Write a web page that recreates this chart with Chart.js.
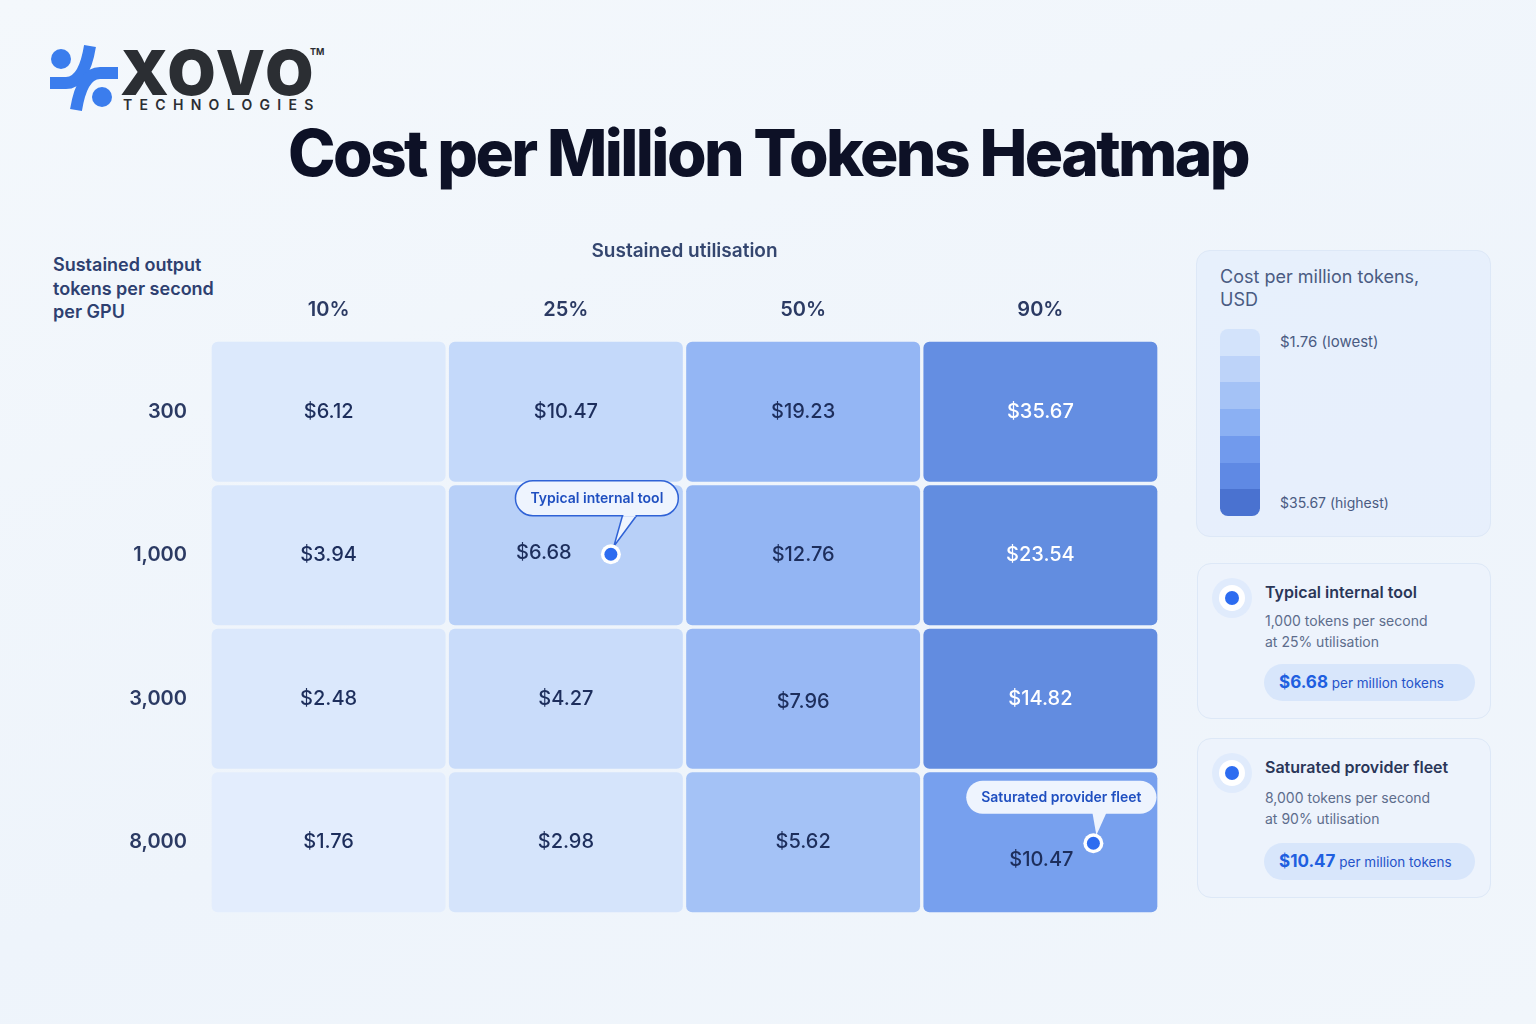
<!DOCTYPE html>
<html>
<head>
<meta charset="utf-8">
<script src="https://cdn.jsdelivr.net/npm/chart.js@4.4.1/dist/chart.umd.min.js"></script>
<style>
  html, body { margin: 0; padding: 0; }
  body {
    width: 1536px; height: 1024px; overflow: hidden; position: relative;
    background: linear-gradient(160deg, #f4f8fc 0%, #eef4fb 60%, #f1f6fb 100%);
    font-family: Inter, "Noto Sans", sans-serif; color: #2b3a63;
  }
  .abs { position: absolute; }
  #title {
    left: 0; top: 121px; width: 1536px; text-align: center;
    font-size: 64px; font-weight: 800; letter-spacing: -2.6px; line-height: 1;
    color: #0d1126;
  }
  #ytitle {
    left: 53px; top: 253px; font-size: 18px; font-weight: 600; line-height: 23.5px;
    color: #2e4070;
  }
  .card {
    position: absolute; box-sizing: border-box; border-radius: 14px;
    background: rgba(228, 238, 252, 0.75); border: 1px solid #dde8f7;
  }
  .legend-title { position: absolute; left: 23px; top: 14px; font-size: 18px; line-height: 23px; color: #4a5b82; }
  .ramp { position: absolute; left: 23px; top: 78px; width: 40px; height: 187px; border-radius: 8px; overflow: hidden; display: flex; flex-direction: column; }
  .ramp div { flex: 1; }
  .rlab { position: absolute; left: 83px; font-size: 15px; color: #4a5b82; }
  .dot { position: absolute; left: 14px; width: 40px; height: 40px; border-radius: 50%; background: #e0ebfc; }
  .dot::before { content: ""; position: absolute; left: 7px; top: 7px; width: 26px; height: 26px; border-radius: 50%; background: #fff; }
  .dot::after { content: ""; position: absolute; left: 13px; top: 13px; width: 14px; height: 14px; border-radius: 50%; background: #2d6cf0; }
  .ctitle { position: absolute; left: 67px; font-size: 16px; font-weight: 600; color: #2a3658; }
  .csub { position: absolute; left: 67px; font-size: 14px; line-height: 21px; color: #5d6d8c; }
  .pill { position: absolute; left: 66px; width: 211px; box-sizing: border-box; height: 37px; border-radius: 19px; background: #d8e6fb; padding: 0 15px; line-height: 37px; color: #2553c9; font-size: 13.5px; white-space: nowrap; }
  .pill b { font-size: 17px; font-weight: 700; color: #1f5fe0; }
</style>
</head>
<body>

<!-- logo -->
<svg class="abs" style="left:44px;top:40px" width="80" height="76" viewBox="44 40 80 76">
  <circle cx="61" cy="59" r="10" fill="#3b7ded"/>
  <circle cx="102" cy="97" r="10" fill="#3b7ded"/>
  <path d="M50 83 L66 83 Q84 83 90 46" stroke="#3b7ded" stroke-width="12" fill="none"/>
  <path d="M118 73 L100 73 Q82 73 76 110" stroke="#3b7ded" stroke-width="12" fill="none"/>
</svg>
<div class="abs" style="left:120px;top:42px;font-size:62px;font-weight:900;letter-spacing:3px;line-height:1;color:#2b2e33">XOVO</div>
<div class="abs" style="left:310px;top:46px;font-size:9px;font-weight:700;color:#2b2e33">TM</div>
<div class="abs" style="left:123px;top:96px;font-size:14px;font-weight:600;letter-spacing:7.3px;color:#2b2e33">TECHNOLOGIES</div>

<div id="title" class="abs">Cost per Million Tokens Heatmap</div>
<div id="ytitle" class="abs">Sustained output<br>tokens per second<br>per GPU</div>

<div class="abs" style="left:0;top:220px">
  <canvas id="heat" width="1180" height="729"></canvas>
</div>

<!-- colour key -->
<div class="card" style="left:1196px;top:250px;width:295px;height:287px">
  <div class="legend-title">Cost per million tokens,<br>USD</div>
  <div class="ramp" id="ramp"></div>
  <div class="rlab" id="lowLab" style="top:81px"></div>
  <div class="rlab" id="highLab" style="top:243px;font-size:14px"></div>
</div>

<div class="card" style="left:1197px;top:563px;width:294px;height:156px;background:rgba(236,243,253,0.8)">
  <div class="dot" style="top:14px"></div>
  <div class="ctitle" style="top:18px">Typical internal tool</div>
  <div class="csub" style="top:46px">1,000 tokens per second<br>at 25% utilisation</div>
  <div class="pill" style="top:100px"><b>$6.68</b> per million tokens</div>
</div>

<div class="card" style="left:1197px;top:738px;width:294px;height:160px;background:rgba(236,243,253,0.8)">
  <div class="dot" style="top:14px"></div>
  <div class="ctitle" style="top:18px">Saturated provider fleet</div>
  <div class="csub" style="top:48px">8,000 tokens per second<br>at 90% utilisation</div>
  <div class="pill" style="top:104px"><b>$10.47</b> per million tokens</div>
</div>

<script>
const utilisation = ['10%', '25%', '50%', '90%'];
const tokenRates = ['300', '1,000', '3,000', '8,000'];

// cost per million tokens, rows = tokenRates, columns = utilisation
const cost300 = [6.12, 10.47, 19.23, 35.67];
const cost1000 = [3.94, 6.68, 12.76, 23.54];
const cost3000 = [2.48, 4.27, 7.96, 14.82];
const cost8000 = [1.76, 2.98, 5.62, 10.47];
const costs = [cost300, cost1000, cost3000, cost8000];

// shade used for each cell in the picture
const cellShades = [
  ['#dce9fc', '#c4d9fa', '#94b6f4', '#648ee2'],
  ['#d9e7fc', '#b8d0f8', '#93b5f3', '#628de0'],
  ['#dbe8fc', '#c9dcfa', '#98b8f4', '#628ce0'],
  ['#e3edfd', '#d5e4fb', '#a4c2f6', '#77a0ee']
];
const rampShades = ['#d3e3fb', '#bdd3f9', '#a4c2f6', '#8bb0f3', '#719aed', '#5f89e4', '#4a72d0'];

const callouts = [
  { row: 1, col: 1, text: 'Typical internal tool', outlined: true },
  { row: 3, col: 3, text: 'Saturated provider fleet', outlined: false }
];

// legend ramp
const ramp = document.getElementById('ramp');
rampShades.forEach(c => {
  const d = document.createElement('div');
  d.style.background = c;
  ramp.appendChild(d);
});
const allCosts = costs.flat();
document.getElementById('lowLab').textContent = '$' + Math.min(...allCosts).toFixed(2) + ' (lowest)';
document.getElementById('highLab').textContent = '$' + Math.max(...allCosts).toFixed(2) + ' (highest)';

function isDark(hex) {
  const r = parseInt(hex.substr(1, 2), 16), g = parseInt(hex.substr(3, 2), 16), b = parseInt(hex.substr(5, 2), 16);
  return 0.299 * r + 0.587 * g + 0.114 * b < 148;
}

// small tweaks for the two annotated cells (label + marker placement)
const labelShift = { '1-1': [-22, -2], '3-3': [1, 18], '2-2': [0, 3] };
const markerShift = { '1-1': [45, -1], '3-3': [53, 1] };
const bubbleShift = { '1-1': [31, -57], '3-3': [21, -45] };

const cellText = {
  id: 'cellText',
  afterDatasetsDraw(chart) {
    const ctx = chart.ctx;
    ctx.save();
    ctx.font = '500 20px Inter';
    ctx.textAlign = 'center';
    ctx.textBaseline = 'middle';
    chart.data.datasets.forEach((ds, c) => {
      chart.getDatasetMeta(c).data.forEach((el, r) => {
        const p = el.getCenterPoint();
        const s = labelShift[r + '-' + c] || [0, 0];
        ctx.fillStyle = isDark(cellShades[r][c]) ? '#ffffff' : '#1d2e5c';
        ctx.fillText('$' + costs[r][c].toFixed(2), p.x + s[0], p.y + s[1]);
      });
    });

    callouts.forEach(co => {
      const el = chart.getDatasetMeta(co.col).data[co.row];
      const p = el.getCenterPoint();
      const key = co.row + '-' + co.col;
      const mx = p.x + markerShift[key][0], my = p.y + markerShift[key][1];
      const bx = p.x + bubbleShift[key][0], by = p.y + bubbleShift[key][1];
      ctx.font = '600 14px Inter';
      const w = ctx.measureText(co.text).width + 30, h = co.outlined ? 35 : 33;
      const left = bx - w / 2, top = by - h / 2;
      // tail
      const tx = bx + w * 0.2;
      ctx.beginPath();
      ctx.moveTo(tx - 7, top + h - 1);
      ctx.lineTo(mx + 3, my - 8);
      ctx.lineTo(tx + 7, top + h - 1);
      ctx.closePath();
      ctx.fillStyle = '#eef4fe';
      ctx.fill();
      if (co.outlined) {
        ctx.strokeStyle = '#2f62d6';
        ctx.lineWidth = 1.5;
        ctx.beginPath();
        ctx.moveTo(tx - 7, top + h);
        ctx.lineTo(mx + 3, my - 8);
        ctx.lineTo(tx + 7, top + h);
        ctx.stroke();
      }
      // bubble
      ctx.beginPath();
      ctx.roundRect(left, top, w, h, h / 2);
      ctx.fillStyle = '#eef4fe';
      ctx.fill();
      if (co.outlined) {
        ctx.strokeStyle = '#2f62d6';
        ctx.lineWidth = 1.5;
        ctx.stroke();
        ctx.fillStyle = '#eef4fe';
        ctx.fillRect(tx - 6, top + h - 2, 12, 3);
      }
      ctx.fillStyle = '#1f4fc0';
      ctx.textAlign = 'center';
      ctx.textBaseline = 'middle';
      ctx.fillText(co.text, bx, by + 1);
      // marker
      ctx.beginPath();
      ctx.arc(mx, my, 10, 0, Math.PI * 2);
      ctx.fillStyle = '#ffffff';
      ctx.fill();
      ctx.beginPath();
      ctx.arc(mx, my, 6.5, 0, Math.PI * 2);
      ctx.fillStyle = '#2d6cf0';
      ctx.fill();
    });
    ctx.restore();
  }
};

const datasets = utilisation.map((u, c) => ({
  label: u,
  data: tokenRates.map(() => 1),
  backgroundColor: cellShades.map(row => row[c]),
  borderColor: 'rgba(0,0,0,0)',
  borderWidth: 2,
  borderSkipped: false,
  borderRadius: { topLeft: 8, topRight: 8, bottomLeft: 8, bottomRight: 8 },
  barPercentage: 1,
  categoryPercentage: 1
}));

new Chart(document.getElementById('heat'), {
  type: 'bar',
  data: { labels: tokenRates, datasets: datasets },
  plugins: [cellText],
  options: {
    indexAxis: 'y',
    responsive: false,
    animation: false,
    devicePixelRatio: 1,
    layout: { padding: { top: 0, right: 21, bottom: 8, left: 0 } },
    plugins: { legend: { display: false }, tooltip: { enabled: false } },
    scales: {
      x: {
        position: 'top',
        stacked: true,
        min: 0,
        max: utilisation.length,
        grid: { display: false, drawTicks: false },
        border: { display: false },
        afterBuildTicks(scale) {
          scale.ticks = utilisation.map((_, i) => ({ value: i + 0.5 }));
        },
        afterFit(scale) { scale.height = 120; },
        ticks: {
          padding: 18,
          color: '#2b3a63',
          font: { family: 'Inter', size: 20, weight: '600' },
          callback: (v, i) => utilisation[i]
        },
        title: {
          display: true,
          text: 'Sustained utilisation',
          color: '#34466f',
          font: { family: 'Inter', size: 19, weight: '600' },
          padding: { top: 20, bottom: 0 }
        }
      },
      y: {
        stacked: true,
        grid: { display: false, drawTicks: false },
        border: { display: false },
        afterFit(scale) { scale.width = 210; },
        ticks: {
          padding: 23,
          color: '#2b3a63',
          font: { family: 'Inter', size: 20, weight: '600' }
        }
      }
    }
  }
});
</script>
</body>
</html>
